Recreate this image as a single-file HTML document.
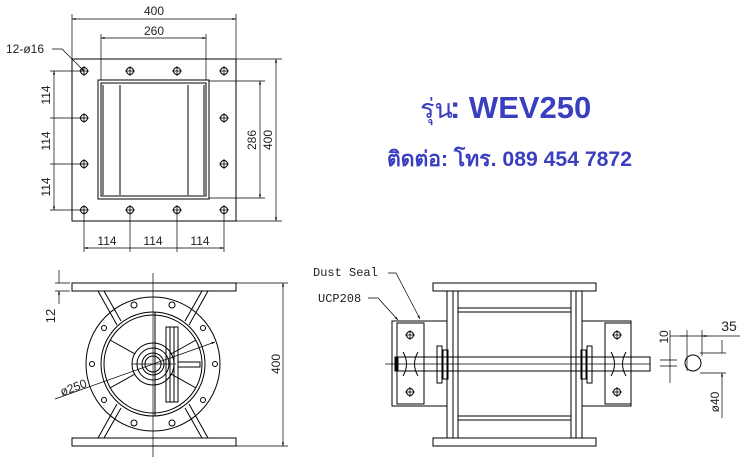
<!DOCTYPE html>
<html><head><meta charset="utf-8"><style>
html,body{margin:0;padding:0;background:#fff;width:750px;height:467px;overflow:hidden}
svg text{font-family:"Liberation Sans",sans-serif;fill:#222}
</style></head><body>
<svg width="750" height="467" viewBox="0 0 750 467" xmlns="http://www.w3.org/2000/svg">
<defs>
<marker id="a" viewBox="0 0 10 10" refX="10" refY="5" markerWidth="7" markerHeight="5" orient="auto-start-reverse"><path d="M0,2 L10,5 L0,8z" fill="#000"/></marker>
<g id="bolt"><circle r="3.5" fill="none" stroke="#000" stroke-width="1"/><path d="M-5,0H5M0,-5V5" stroke="#000" stroke-width="0.8"/></g>
</defs>
<g stroke="#000" stroke-width="1" fill="none">
<rect x="72" y="59" width="164" height="162"/>
<rect x="98" y="80" width="111" height="119"/>
<rect x="101" y="83" width="105" height="113"/>
<path d="M103,85V195M120,85V195M188,85V195M204,85V195"/>
<path d="M72,59V14M236,59V14M101,80V34M206,80V34" stroke-width="0.7"/>
<path d="M72,19H236" marker-start="url(#a)" marker-end="url(#a)" stroke-width="0.7"/>
<path d="M101,38H206" marker-start="url(#a)" marker-end="url(#a)" stroke-width="0.7"/>
<path d="M50,71H84M50,118H84M50,164H84M50,210H84" stroke-width="0.7"/>
<path d="M54,71V118M54,118V164M54,164V210" marker-start="url(#a)" marker-end="url(#a)" stroke-width="0.7"/>
<path d="M84,210V252M130,210V252M177,210V252M224,210V252" stroke-width="0.7"/>
<path d="M84,248H130M130,248H177M177,248H224" marker-start="url(#a)" marker-end="url(#a)" stroke-width="0.7"/>
<path d="M209,81H265M209,198H265M236,59H282M236,221H282" stroke-width="0.7"/>
<path d="M260,81V198" marker-start="url(#a)" marker-end="url(#a)" stroke-width="0.7"/>
<path d="M276,59V221" marker-start="url(#a)" marker-end="url(#a)" stroke-width="0.7"/>
<path d="M52,49H62L84,71" stroke-width="0.7" marker-end="url(#a)"/>
</g>
<use href="#bolt" x="84" y="71"/><use href="#bolt" x="130" y="71"/><use href="#bolt" x="177" y="71"/><use href="#bolt" x="224" y="71"/>
<use href="#bolt" x="84" y="118"/><use href="#bolt" x="224" y="118"/>
<use href="#bolt" x="84" y="164"/><use href="#bolt" x="224" y="164"/>
<use href="#bolt" x="84" y="210"/><use href="#bolt" x="130" y="210"/><use href="#bolt" x="177" y="210"/><use href="#bolt" x="224" y="210"/>
<g font-size="12">
<text x="154" y="15" text-anchor="middle">400</text>
<text x="154" y="35" text-anchor="middle">260</text>
<text x="6" y="53">12-ø16</text>
<text transform="translate(50,95) rotate(-90)" text-anchor="middle">114</text>
<text transform="translate(50,141) rotate(-90)" text-anchor="middle">114</text>
<text transform="translate(50,187) rotate(-90)" text-anchor="middle">114</text>
<text x="107" y="245" text-anchor="middle">114</text>
<text x="153" y="245" text-anchor="middle">114</text>
<text x="200" y="245" text-anchor="middle">114</text>
<text transform="translate(256,140) rotate(-90)" text-anchor="middle">286</text>
<text transform="translate(272,140) rotate(-90)" text-anchor="middle">400</text>
</g>
<text x="420" y="118" font-family="'Liberation Serif',serif" font-size="27" style="fill:#3a3fc0">รุ่น</text>
<text x="450" y="118" font-family="'Liberation Sans',sans-serif" font-weight="bold" font-size="31" style="fill:#3a3fc0">: WEV250</text>
<text x="387" y="166" font-family="'Liberation Serif',serif" font-weight="bold" font-size="21" textLength="245" lengthAdjust="spacingAndGlyphs" style="fill:#3a3fc0">ติดต่อ: โทร. 089 454 7872</text>
<g stroke="#000" stroke-width="1" fill="none">
<rect x="72" y="283" width="164" height="8"/>
<rect x="72" y="438" width="164" height="8"/>
<path d="M153,273V457" stroke-width="0.7"/>
<circle cx="153" cy="364" r="67"/>
<circle cx="153" cy="364" r="52"/>
<circle cx="153" cy="364" r="49"/>
<circle cx="153" cy="364" r="21"/>
<circle cx="153" cy="364" r="16"/>
<circle cx="153" cy="364" r="11"/>
<circle cx="153" cy="364" r="8"/>
<path d="M98,291L117,325M104,291L121,321M208,291L189,325M202,291L185,321"/>
<path d="M98,438L117,404M104,438L121,408M208,438L189,404M202,438L185,408"/>
<path d="M110,340L135,354M110,388L135,374M196,340L171,354M196,388L171,374"/>
<path d="M155,312V416"/>
<rect x="166" y="327" width="12" height="75"/>
<rect x="170" y="327" width="4" height="75"/>
<rect x="178" y="362" width="22" height="5"/>
<circle cx="134" cy="305" r="3"/><circle cx="172" cy="305" r="3"/>
<circle cx="134" cy="423" r="3"/><circle cx="172" cy="423" r="3"/>
<circle cx="104" cy="328" r="2.5"/><circle cx="203" cy="328" r="2.5"/>
<circle cx="92" cy="364" r="2.5"/><circle cx="215" cy="364" r="2.5"/>
<circle cx="104" cy="400" r="2.5"/><circle cx="203" cy="400" r="2.5"/>
<path d="M132,364H176" stroke-width="0.7"/>
<path d="M55,399L215,342" stroke-width="0.7" marker-end="url(#a)"/>
<path d="M55,283H70M55,291H70" stroke-width="0.7"/>
<path d="M59,270V283M59,304V291" stroke-width="0.7" marker-end="url(#a)"/>
<path d="M236,283H288M236,446H288" stroke-width="0.7"/>
<path d="M283,283V446" marker-start="url(#a)" marker-end="url(#a)" stroke-width="0.7"/>
</g>
<g font-size="12">
<text transform="translate(55,316) rotate(-90)" text-anchor="middle" font-size="13">12</text>
<text transform="translate(280,364) rotate(-90)" text-anchor="middle">400</text>
<text transform="translate(62,396) rotate(-20)">ø250</text>
</g>
<g stroke="#000" stroke-width="1" fill="none">
<rect x="433" y="283" width="163" height="8"/>
<rect x="433" y="438" width="163" height="8"/>
<path d="M447,291V438M453,291V438M458,291V438M571,291V438M576,291V438M582,291V438"/>
<path d="M458,308H571M458,312H571M458,416H571M458,420H571"/>
<rect x="392" y="321" width="55" height="85"/>
<rect x="397" y="323" width="27" height="81"/>
<rect x="582" y="321" width="49" height="85"/>
<rect x="605" y="323" width="26" height="81"/>
<path d="M403,352Q410,364 403,376M418,352Q411,364 418,376M611,352Q618,364 611,376M626,352Q619,364 626,376"/>
<rect x="437" y="346" width="5" height="37"/><rect x="443" y="350" width="5" height="29"/>
<rect x="581" y="350" width="5" height="29"/><rect x="587" y="346" width="5" height="37"/>
<path d="M385,364H650" stroke-width="0.7"/>
<path d="M395,357H631M395,371H631"/>
<rect x="631" y="357" width="19" height="14"/>
<rect x="395" y="357" width="3" height="14" fill="#000"/>
<path d="M388,273H396L420,319" stroke-width="0.7" marker-end="url(#a)"/>
<path d="M368,298H378L398,320" stroke-width="0.7" marker-end="url(#a)"/>
<circle cx="693" cy="363" r="8"/>
<path d="M687,330V371M702,330V356M670,330V383M660,360H677M660,366H677M700,353H726M700,373H726" stroke-width="0.7"/>
<path d="M670,336H740" stroke-width="0.7"/>
<path d="M680,336H687M709,336H702" stroke-width="0.7" marker-end="url(#a)"/>
<path d="M722,340V353M722,386V373" stroke-width="0.7" marker-end="url(#a)"/>
<path d="M722,386V418" stroke-width="0.7"/>
</g>
<use href="#bolt" x="410" y="335"/><use href="#bolt" x="410" y="392"/>
<use href="#bolt" x="617" y="335"/><use href="#bolt" x="617" y="392"/>
<g font-size="12">
<text x="313" y="276" style="font-family:'Liberation Mono',monospace">Dust Seal</text>
<text x="318" y="302" style="font-family:'Liberation Mono',monospace">UCP208</text>
</g>
<g font-size="12">
<text transform="translate(668,337) rotate(-90)" text-anchor="middle">10</text>
<text x="729" y="331" text-anchor="middle" font-size="14">35</text>
<text transform="translate(719,402) rotate(-90)" text-anchor="middle">ø40</text>
</g>
</svg>
</body></html>
